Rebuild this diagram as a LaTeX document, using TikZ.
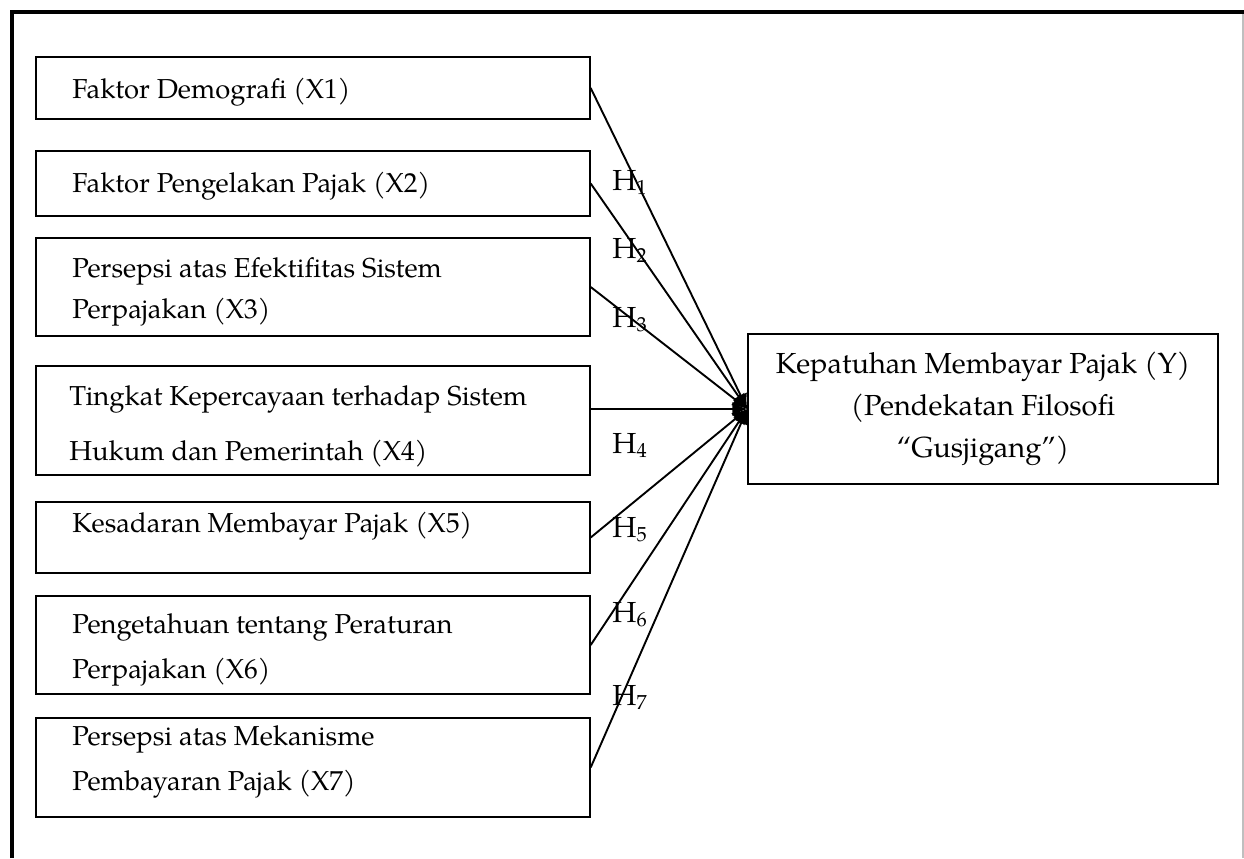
\documentclass[tikz,border=0pt]{standalone}
\usepackage{fontspec}
\setmainfont{TeX Gyre Pagella}
\usetikzlibrary{arrows.meta,fit}
\begin{document}
\begin{tikzpicture}[x=0.5pt,y=-0.5pt,
  box/.style={draw=black, line width=0.7pt, rectangle, inner sep=0pt},
  lbl/.style={anchor=base west, inner sep=0pt, align=left, font=\fontsize{13.7pt}{20.5pt}\selectfont},
  ylbl/.style={inner sep=0pt, align=center, font=\fontsize{14.5pt}{21pt}\selectfont},
  hlab/.style={anchor=base west, inner sep=0pt, font=\fontsize{14.5pt}{17pt}\selectfont},
  conn/.style={line width=0.95pt, -{Latex[length=7.5pt,width=7pt]}},
  frame/.style={line width=2pt, line join=miter}]
\useasboundingbox (0,0) rectangle (1244,858);
% outer frame
\draw[frame] (12,858) -- (12,12) -- (1244,12);
\draw[black!25, line width=0.6pt] (1243,14) -- (1243,858);
% left boxes
\node[box, fit={(36,57) (590,119)}] (x1) {};
\node[box, fit={(36,151) (590,216)}] (x2) {};
\node[box, fit={(36,238) (590,336)}] (x3) {};
\node[box, fit={(36,366) (590,475)}] (x4) {};
\node[box, fit={(36,502) (590,573)}] (x5) {};
\node[box, fit={(36,596) (590,694)}] (x6) {};
\node[box, fit={(36,718) (590,817)}] (x7) {};
% right box
\node[box, fit={(748,334) (1218,484)}] (y) {};
% texts
\node[lbl] (t1) at (72,98) {Faktor Demografi (X1)};
\node[lbl] (t2) at (72,192) {Faktor Pengelakan Pajak (X2)};
\node[lbl] (t3) at (72,318) {Persepsi atas Efektifitas Sistem\\Perpajakan (X3)};
\node[lbl, font=\fontsize{13.7pt}{27.5pt}\selectfont] (t4) at (69,460) {Tingkat Kepercayaan terhadap Sistem\\Hukum dan Pemerintah (X4)};
\node[lbl] (t5) at (72,532) {Kesadaran Membayar Pajak (X5)};
\node[lbl, font=\fontsize{13.7pt}{22.5pt}\selectfont] (t6) at (72,678) {Pengetahuan tentang Peraturan\\Perpajakan (X6)};
\node[lbl, font=\fontsize{13.7pt}{22.5pt}\selectfont] (t7) at (72,790) {Persepsi atas Mekanisme\\Pembayaran Pajak (X7)};
\node[ylbl] (ty) at (983,409) {Kepatuhan Membayar Pajak (Y)\\(Pendekatan Filosofi\\“Gusjigang”)};
% connectors
\draw[conn] (x1.east) -- (y.west);
\draw[conn] (x2.east) -- (y.west);
\draw[conn] (x3.east) -- (y.west);
\draw[conn] (x4.east |- y.west) -- (y.west);
\draw[conn] (x5.east) -- (y.west);
\draw[conn] (x6.east) -- (y.west);
\draw[conn] (x7.east) -- (y.west);
% hypothesis labels
\node[hlab] (h1) at (612,190) {H\textsubscript{1}};
\node[hlab] (h2) at (612,258) {H\textsubscript{2}};
\node[hlab] (h3) at (612,327) {H\textsubscript{3}};
\node[hlab] (h4) at (612,453) {H\textsubscript{4}};
\node[hlab] (h5) at (612,537) {H\textsubscript{5}};
\node[hlab] (h6) at (612,622) {H\textsubscript{6}};
\node[hlab] (h7) at (612,705) {H\textsubscript{7}};
\end{tikzpicture}
\end{document}
